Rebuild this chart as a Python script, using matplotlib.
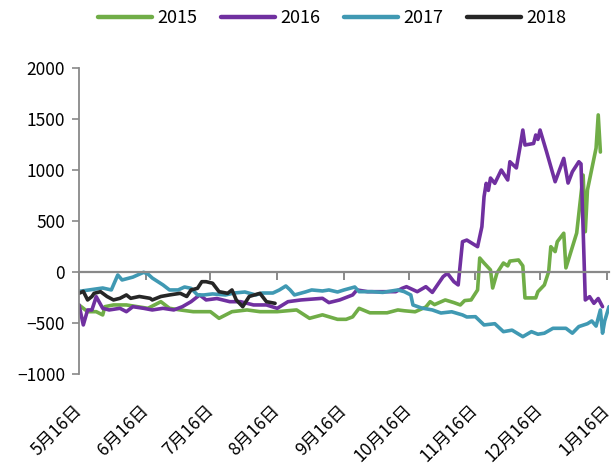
import matplotlib
matplotlib.use("Agg")
import matplotlib.pyplot as plt
from matplotlib.lines import Line2D

plt.rcParams['font.family'] = ['Noto Sans CJK SC', 'DejaVu Sans']

# x values: days since 5月16日
tick_days = [0, 31, 61, 92, 123, 153, 184, 214, 245]
tick_labels = ["5月16日", "6月16日", "7月16日", "8月16日", "9月16日",
               "10月16日", "11月16日", "12月16日", "1月16日"]

days_2015 = [0, 4, 8, 11, 12, 16, 22, 32, 38, 42, 47, 53, 61, 65, 71, 78, 84, 92,
             101, 107, 113, 120, 124, 127, 130, 135, 143, 148, 151, 156, 161, 163,
             165, 170, 174, 177, 179, 182, 185, 186, 188, 191, 192, 194, 197, 199,
             200, 204, 206, 207, 210, 212, 213, 216, 218, 219, 221, 222, 225, 226,
             231, 234, 235, 236, 240, 241, 242]
vals_2015 = [-323, -389, -389, -421, -340, -323, -323, -356, -291, -356, -372, -389,
             -389, -454, -389, -372, -389, -389, -372, -454, -420, -464, -464, -440,
             -356, -400, -400, -372, -380, -390, -343, -291, -320, -274, -300, -323,
             -280, -274, -176, 137, 88, 20, -157, -10, 88, 60, 107, 118, 60, -254,
             -254, -254, -193, -127, 3, 248, 200, 297, 380, 40, 382, 950, 395, 804,
             1215, 1540, 1176]

days_2016 = [0, 2, 4, 6, 8, 11, 14, 19, 22, 25, 30, 34, 39, 44, 48, 52, 56, 59, 64,
             70, 75, 81, 87, 92, 97, 103, 113, 116, 121, 127, 129, 134, 141, 147,
             150, 152, 157, 161, 164, 169, 171, 174, 176, 178, 180, 185, 187, 188,
             189, 190, 191, 193, 196, 199, 200, 203, 205, 206, 207, 211, 212, 213,
             214, 217, 221, 225, 227, 229, 232, 233, 234, 235, 237, 239, 241, 243]
vals_2016 = [-323, -519, -372, -372, -242, -356, -372, -356, -389, -340, -356, -372,
             -356, -372, -340, -291, -225, -274, -260, -291, -291, -323, -323, -356,
             -291, -274, -258, -300, -274, -225, -176, -193, -193, -193, -160, -144,
             -193, -144, -200, -46, -13, -95, -127, 297, 313, 248, 444, 738, 869,
             800, 921, 869, 1000, 902, 1081, 1020, 1261, 1392, 1245, 1260, 1343,
             1300, 1392, 1180, 885, 1114, 872, 983, 1081, 1060, 412, -274, -242,
             -307, -260, -340]

days_2017 = [0, 11, 15, 18, 20, 25, 30, 32, 34, 39, 42, 46, 49, 52, 55, 58, 62, 68,
             72, 77, 82, 85, 90, 93, 96, 98, 100, 105, 108, 113, 116, 120, 123, 128,
             130, 136, 141, 148, 151, 154, 155, 159, 164, 168, 173, 178, 180, 184,
             188, 193, 197, 201, 206, 210, 213, 216, 220, 226, 229, 232, 236, 238,
             240, 242, 243, 244, 246]
vals_2017 = [-190, -157, -176, -29, -78, -50, -3, -20, -59, -127, -176, -176, -147,
             -160, -225, -225, -215, -225, -206, -196, -225, -206, -206, -176, -137,
             -176, -225, -196, -176, -186, -176, -196, -176, -147, -193, -193, -200,
             -176, -193, -225, -323, -353, -372, -402, -390, -421, -441, -438, -519,
             -507, -585, -570, -634, -585, -610, -600, -552, -552, -600, -535, -507,
             -480, -530, -372, -600, -480, -340]

days_2018 = [0, 2, 4, 6, 7, 10, 13, 16, 19, 22, 24, 28, 33, 34, 38, 42, 47, 50, 52,
             55, 57, 59, 62, 65, 69, 71, 73, 76, 79, 84, 87, 91]
vals_2018 = [-209, -190, -274, -240, -209, -193, -240, -274, -258, -225, -258, -240,
             -258, -274, -240, -225, -209, -240, -176, -160, -95, -95, -110, -193,
             -209, -176, -274, -340, -240, -209, -291, -307]

series = [("2015", days_2015, vals_2015, "#70AD47"),
          ("2016", days_2016, vals_2016, "#7030A0"),
          ("2017", days_2017, vals_2017, "#4099B3"),
          ("2018", days_2018, vals_2018, "#262626")]

fig = plt.figure(figsize=(6.16, 4.68), dpi=100)
ax = fig.add_axes([79/616, 94/468, 530/616, 306/468])

handles = []
for name, d, v, c in series:
    ax.plot(d, v, color=c, lw=2.6, solid_joinstyle='round', solid_capstyle='round')
    handles.append(Line2D([0], [0], color=c, lw=3.2, solid_capstyle='round'))

ax.set_xlim(0, 246)
ax.set_ylim(-1000, 2000)
ax.set_yticks([-1000, -500, 0, 500, 1000, 1500, 2000])
ax.tick_params(axis='y', labelsize=12.5, length=5, width=1.2, color='#898989',
               direction='out', pad=5)

grey = '#898989'
for s in ['top', 'right']:
    ax.spines[s].set_visible(False)
ax.spines['left'].set_color(grey)
ax.spines['left'].set_linewidth(1.3)
ax.spines['bottom'].set_position(('data', 0))
ax.spines['bottom'].set_color(grey)
ax.spines['bottom'].set_linewidth(1.6)
ax.set_xticks(tick_days)
ax.set_xticklabels([])
ax.tick_params(axis='x', length=6, width=1.4, color=grey, direction='out')

sec = ax.secondary_xaxis('bottom')
sec.spines['bottom'].set_visible(False)
sec.set_xticks(tick_days)
sec.set_xticklabels(tick_labels, rotation=45, ha='right', va='center',
                    rotation_mode='anchor', fontsize=12.5)
sec.tick_params(axis='x', length=0, pad=24)

fig.legend(handles, [s[0] for s in series], loc='center', ncol=4,
           bbox_to_anchor=(0.539, 0.9615), frameon=False, fontsize=13,
           handlelength=3.0, handletextpad=0.3, columnspacing=1.3)

fig.savefig("out.png", dpi=100)
